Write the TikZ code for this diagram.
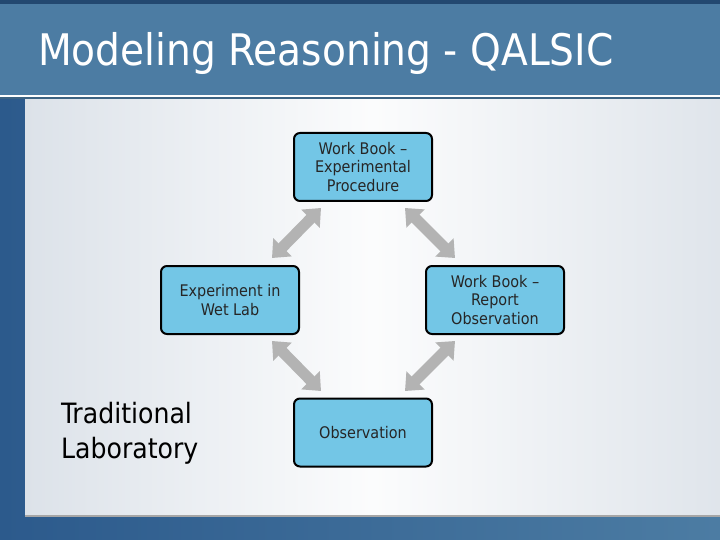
\documentclass[tikz,border=0pt]{standalone}
\usepackage{fontspec}
\setmainfont{DejaVu Sans Condensed}
\usetikzlibrary{arrows.meta,shadings}
\definecolor{titlebar}{HTML}{4C7CA3}
\definecolor{boxfill}{HTML}{73C6E6}
\definecolor{arrowgray}{HTML}{B3B3B3}
\definecolor{deepblue}{HTML}{2C5A8C}
\definecolor{panel}{HTML}{DCE2E9}
\tikzset{
  stagebox/.style={draw=black, fill=boxfill, line width=2pt, rounded corners=6pt,
    minimum width=138pt, minimum height=68pt, align=center, font=\fontsize{16}{18.5}\selectfont, text=black!85},
  linkarrow/.style={arrowgray, line width=11pt, {Triangle[width=25pt,length=15pt]}-{Triangle[width=25pt,length=15pt]}}
}
\begin{document}
\begin{tikzpicture}[x=1pt,y=-1pt]
\useasboundingbox (0,0) rectangle (720,540);
% background
\shade[left color=deepblue, right color=titlebar] (0,0) rectangle (720,540);
\fill[deepblue!80!black] (0,0) rectangle (720,4);
% title bar
\fill[titlebar] (0,4) rectangle (720,95);
\fill[white] (0,95) rectangle (720,97.5);
\fill[titlebar!80!black] (0,97.5) rectangle (720,99);
% main panel
\shade[left color=panel, right color=panel!90!white, middle color=white!90!panel] (25,100) rectangle (720,515);
\fill[black!35] (25,515) rectangle (720,517);
% title
\node[anchor=base west, text=white, font=\fontsize{43.5}{48}\selectfont, inner sep=0pt] (title) at (38,66) {Modeling Reasoning - QALSIC};
% boxes
\node[stagebox] (proc) at (363,167) {Work Book --\\Experimental\\Procedure};
\node[stagebox] (wet) at (230,300) {Experiment in\\Wet Lab};
\node[stagebox] (report) at (495,300) {Work Book --\\Report\\Observation};
\node[stagebox] (obs) at (363,432.5) {Observation};
\node[align=left, anchor=west, font=\fontsize{28}{35}\selectfont, text=black, inner sep=0pt] (trad) at (61,433) {Traditional\\Laboratory};
% arrows
\coordinate (a1) at (321,208); \coordinate (b1) at (272,258);
\coordinate (a2) at (405,208); \coordinate (b2) at (455,258);
\coordinate (a3) at (272,341); \coordinate (b3) at (321,391);
\coordinate (a4) at (455,341); \coordinate (b4) at (405,391);
\draw[linkarrow] (a1) -- (b1);
\draw[linkarrow] (a2) -- (b2);
\draw[linkarrow] (a3) -- (b3);
\draw[linkarrow] (a4) -- (b4);
\end{tikzpicture}
\end{document}
